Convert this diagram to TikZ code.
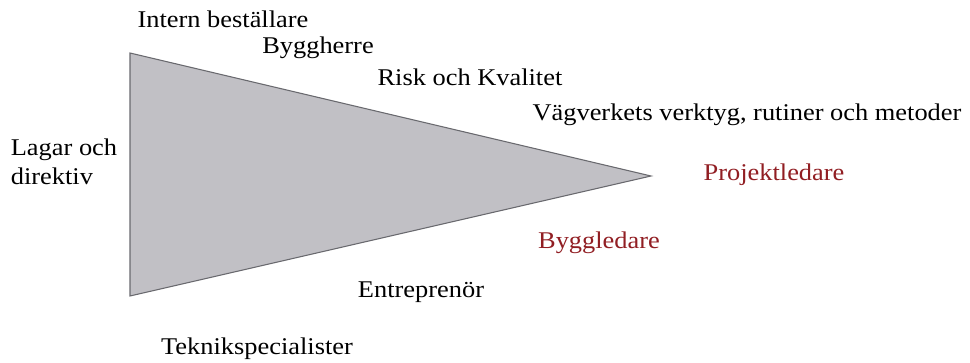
\documentclass[tikz,border=0pt]{standalone}
\usepackage{fontspec}
\setmainfont{Liberation Serif}[FakeStretch=1.1]
\usepackage{tikz}
\usetikzlibrary{positioning}
\definecolor{wedgegray}{RGB}{193, 192, 197}
\definecolor{edgegray}{RGB}{105, 105, 110}
\definecolor{leadred}{RGB}{145, 30, 35}
\tikzset{
  actor/.style={inner sep=0pt, font=\fontsize{18}{22}\selectfont, text=black},
  leader/.style={actor, text=leadred}
}

\begin{document}
\begin{tikzpicture}[x=0.75pt, y=-0.75pt]
    \useasboundingbox (0,0) rectangle (970,363);

    % Wedge
    \coordinate (top) at (130,53);
    \coordinate (tip) at (651,176);
    \coordinate (bot) at (130,296);
    \draw[edgegray, fill=wedgegray, line width=0.8pt] (top) -- (tip) -- (bot) -- cycle;

    % Labels above the wedge
    \node[actor] (intern) at (223,19) {Intern beställare};
    \node[actor] (bygg) at (318,48) {Byggherre};
    \node[actor] (risk) at (470,77) {Risk och Kvalitet};
    \node[actor] (vv) at (747,115) {Vägverkets verktyg, rutiner och metoder};

    % Left side
    \node[actor, align=left] (lagar) at (64,162) {Lagar och\\direktiv};

    % Leaders
    \node[leader] (pl) at (774,175) {Projektledare};
    \node[leader] (bl) at (599,243) {Byggledare};

    % Labels below the wedge
    \node[actor] (entr) at (421,292) {Entreprenör};
    \node[actor] (tek) at (257,349) {Teknikspecialister};

\end{tikzpicture}
\end{document}
